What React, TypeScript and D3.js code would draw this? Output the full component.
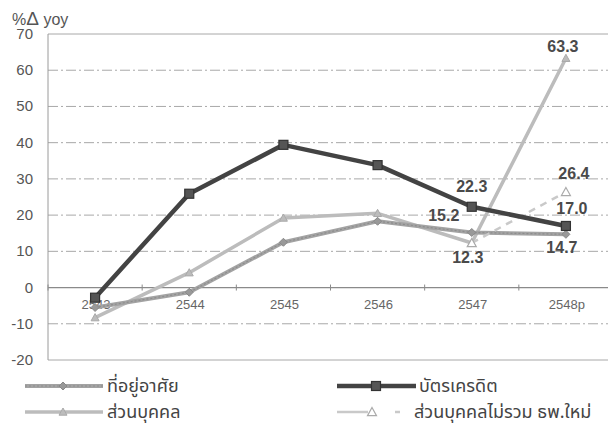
import React from "react";
import * as d3 from "d3";

const categories = ["2543", "2544", "2545", "2546", "2547", "2548p"];
const housing = [-5.5, -1.3, 12.5, 18.3, 15.2, 14.7];
const creditCard = [-2.8, 25.9, 39.4, 33.8, 22.3, 17.0];
const personal = [-8.3, 4.1, 19.2, 20.5, 12.3, 63.3];
const personalExNewBanks: (number | null)[] = [null, null, null, null, 12.3, 26.4];
const yTicks = [-20, -10, 0, 10, 20, 30, 40, 50, 60, 70];

const seriesNames = ["ที่อยู่อาศัย", "ส่วนบุคคล", "บัตรเครดิต", "ส่วนบุคคลไม่รวม ธพ.ใหม่"];

const labelRefs: { arr: (number | null)[]; i: number; dx: number; dy: number }[] = [
  { arr: personal, i: 5, dx: -3, dy: -6 },
  { arr: personalExNewBanks, i: 5, dx: 8, dy: -13 },
  { arr: creditCard, i: 4, dx: 0, dy: -15 },
  { arr: creditCard, i: 5, dx: 6, dy: -12 },
  { arr: housing, i: 4, dx: -28, dy: -11 },
  { arr: personal, i: 4, dx: -4, dy: 20 },
  { arr: housing, i: 5, dx: -4, dy: 19 },
];

const W = 608;
const H = 425;
const left = 48;
const right = 613;
const top = 34;
const bottom = 360;

const thaiFont = "'Noto Sans Thai', 'Noto Sans', 'DejaVu Sans', sans-serif";
const latinFont = "'Liberation Sans', Arial, sans-serif";

export default function App() {
  const x = d3.scalePoint<string>().domain(categories).range([left, right]).padding(0.5);
  const y = d3.scaleLinear().domain([-20, 70]).range([bottom, top]);
  const step = x.step();

  const mkLine = (vals: (number | null)[]) =>
    d3
      .line<number | null>()
      .defined((d) => d !== null)
      .x((_, i) => x(categories[i]) as number)
      .y((d) => y(d as number))(vals) || "";

  const diamond = (cx: number, cy: number, r: number) =>
    `M${cx},${cy - r}L${cx + r},${cy}L${cx},${cy + r}L${cx - r},${cy}Z`;
  const tri = (cx: number, cy: number, r: number) =>
    `M${cx},${cy - r}L${cx + r},${cy + r * 0.8}L${cx - r},${cy + r * 0.8}Z`;

  const housingColor = "#a3a3a3";
  const personalColor = "#bcbcbc";
  const creditColor = "#434343";
  const exColor = "#c9c9c9";

  const r1 = 386;
  const r2 = 412;

  return (
    <svg width={W} height={H} style={{ position: "absolute", left: 0, top: 0, background: "#fff" }}>
      <rect x={0} y={0} width={W} height={H} fill="#fff" />
      {yTicks.map((t) => {
        const solid = t === 70 || t === -20 || t === 0;
        return (
          <line
            key={t}
            x1={left}
            x2={right}
            y1={y(t)}
            y2={y(t)}
            stroke={t === 0 ? "#8a8a8a" : "#a8a8a8"}
            strokeWidth={t === 0 ? 1.3 : 1}
            strokeDasharray={solid ? undefined : "10,3,2,3"}
          />
        );
      })}
      <line x1={left} x2={left} y1={top} y2={bottom} stroke="#9a9a9a" strokeWidth={1} />
      {categories.map((c) => (
        <line
          key={c}
          x1={(x(c) as number) - step / 2}
          x2={(x(c) as number) - step / 2}
          y1={y(0) - 3}
          y2={y(0) + 3}
          stroke="#8a8a8a"
        />
      ))}
      {yTicks.map((t) => (
        <text key={t} x={33} y={y(t) + 5} textAnchor="end" fontFamily={latinFont} fontSize={15} fill="#555">
          {t}
        </text>
      ))}
      {categories.map((c) => (
        <text
          key={c}
          x={(x(c) as number) + 1}
          y={y(0) + 21}
          textAnchor="middle"
          fontFamily={latinFont}
          fontSize={13}
          fill="#666"
        >
          {c}
        </text>
      ))}
      <text x={12} y={25} fontFamily={latinFont} fontSize={16} fill="#555">
        %<tspan fontSize={19}>Δ</tspan> yoy
      </text>

      <path d={mkLine(personal)} fill="none" stroke={personalColor} strokeWidth={3.5} strokeLinejoin="round" />
      {personal.map((v, i) => (
        <path key={i} d={tri(x(categories[i]) as number, y(v), 4)} fill={personalColor} stroke="#aaa" />
      ))}
      <path d={mkLine(housing)} fill="none" stroke={housingColor} strokeWidth={4} strokeLinejoin="round" />
      <path d={mkLine(housing)} fill="none" stroke="#8d8d8d" strokeWidth={1.2} strokeDasharray="2,2" />
      {housing.map((v, i) => (
        <path key={i} d={diamond(x(categories[i]) as number, y(v), 4)} fill="#999" stroke="#888" />
      ))}
      <path d={mkLine(personalExNewBanks)} fill="none" stroke={exColor} strokeWidth={2.5} strokeDasharray="7,6" />
      {personalExNewBanks.map((v, i) =>
        v === null ? null : (
          <path key={i} d={tri(x(categories[i]) as number, y(v), 4.5)} fill="#fff" stroke="#aaa" strokeWidth={1.2} />
        )
      )}
      <path d={mkLine(creditCard)} fill="none" stroke={creditColor} strokeWidth={4.5} strokeLinejoin="round" />
      {creditCard.map((v, i) => (
        <rect
          key={i}
          x={(x(categories[i]) as number) - 4.5}
          y={y(v) - 4.5}
          width={9}
          height={9}
          fill="#555"
          stroke="#333"
          strokeWidth={1.2}
        />
      ))}

      {labelRefs.map((l, k) => {
        const v = l.arr[l.i] as number;
        return (
          <text
            key={k}
            x={(x(categories[l.i]) as number) + l.dx}
            y={y(v) + l.dy}
            textAnchor="middle"
            fontFamily={latinFont}
            fontWeight="bold"
            fontSize={16}
            fill="#4a4a4a"
          >
            {v.toFixed(1)}
          </text>
        );
      })}

      <g>
        <line x1={25} x2={103} y1={r1} y2={r1} stroke={housingColor} strokeWidth={4} />
        <line x1={25} x2={103} y1={r1} y2={r1} stroke="#8d8d8d" strokeWidth={1.2} strokeDasharray="2,2" />
        <path d={diamond(63, r1, 4)} fill="#999" stroke="#888" />
        <text x={107} y={r1 + 6} fontFamily={thaiFont} fontSize={18} fill="#444">
          {seriesNames[0]}
        </text>

        <line x1={25} x2={103} y1={r2} y2={r2} stroke={personalColor} strokeWidth={3.5} />
        <path d={tri(63, r2, 4)} fill={personalColor} stroke="#aaa" />
        <text x={107} y={r2 + 6} fontFamily={thaiFont} fontSize={18} fill="#444">
          {seriesNames[1]}
        </text>

        <line x1={337} x2={416} y1={r1} y2={r1} stroke={creditColor} strokeWidth={4.5} />
        <rect x={371.5} y={r1 - 4.5} width={9} height={9} fill="#555" stroke="#333" strokeWidth={1.2} />
        <text x={419} y={r1 + 6} fontFamily={thaiFont} fontSize={18} fill="#444">
          {seriesNames[2]}
        </text>

        <line x1={337} x2={368} y1={r2} y2={r2} stroke={exColor} strokeWidth={2.5} />
        <path d={tri(372, r2, 4.5)} fill="#fff" stroke="#aaa" strokeWidth={1.2} />
        <line x1={395} x2={400} y1={r2} y2={r2} stroke={exColor} strokeWidth={2.5} />
        <text x={414} y={r2 + 6} fontFamily={thaiFont} fontSize={18} fill="#444">
          {seriesNames[3]}
        </text>
      </g>
    </svg>
  );
}
